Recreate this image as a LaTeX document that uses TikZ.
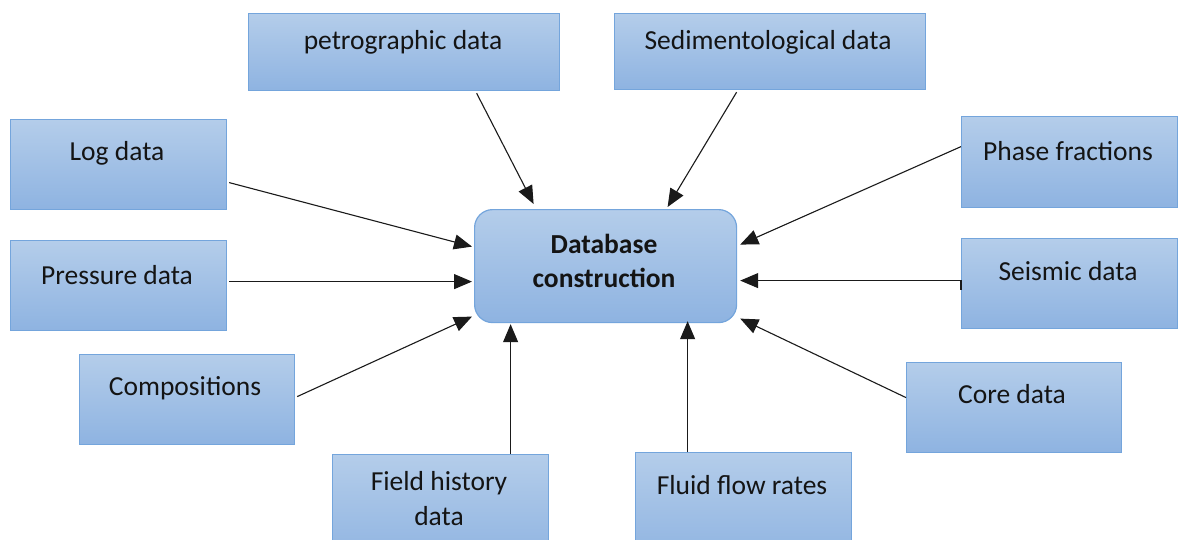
\documentclass[tikz,border=0pt]{standalone}
\usepackage{fontspec}
\setmainfont{Carlito}
\usetikzlibrary{arrows.meta,calc}
\definecolor{boxtop}{HTML}{B4CDEA}
\definecolor{boxbot}{HTML}{8EB3E1}
\definecolor{boxline}{HTML}{74A5DC}
\definecolor{inkline}{HTML}{1A1A1A}
\tikzset{
  srcbox/.style={draw=boxline, line width=1.2pt, top color=boxtop, bottom color=boxbot,
    anchor=north west, inner sep=0pt},
  hubbox/.style={srcbox, rounded corners=18pt},
  lbl/.style={font=\fontsize{27.5}{35}\selectfont, text=black!92, align=center, inner sep=0pt},
  feed/.style={draw=inkline, line width=1.1pt, -{Triangle[length=18pt,width=15pt]}}
}
\begin{document}
\begin{tikzpicture}[x=1pt,y=-1pt]
\clip (0,0) rectangle (1182,540);
\useasboundingbox (0,0) rectangle (1182,540);
\fill[white] (0,0) rectangle (1182,540);

% source boxes
\node[srcbox, minimum width=311pt, minimum height=77pt] (petro) at (248,13) {};
\node[srcbox, minimum width=311pt, minimum height=76pt] (sed) at (614,13) {};
\node[srcbox, minimum width=216pt, minimum height=90pt] (log) at (10,119) {};
\node[srcbox, minimum width=216pt, minimum height=90pt] (press) at (10,240) {};
\node[srcbox, minimum width=215pt, minimum height=90pt] (comp) at (79,354) {};
\node[srcbox, minimum width=216pt, minimum height=110pt] (field) at (332,454) {};
\node[srcbox, minimum width=216pt, minimum height=110pt] (fluid) at (635,452) {};
\node[srcbox, minimum width=215pt, minimum height=90pt] (core) at (906,362) {};
\node[srcbox, minimum width=216pt, minimum height=90pt] (seis) at (961,238) {};
\node[srcbox, minimum width=216pt, minimum height=91pt] (phase) at (961,116) {};

% central box
\node[hubbox, minimum width=262pt, minimum height=113pt] (db) at (474,209) {};

% labels
\node[lbl] (tpetro) at (403,42) {petrographic data};
\node[lbl] (tsed) at (768,42) {Sedimentological data};
\node[lbl] (tlog) at (117,153) {Log data};
\node[lbl] (tpress) at (117,275) {Pressure data};
\node[lbl] (tcomp) at (185,388) {Compositions};
\node[lbl] (tfield) at (439,499) {Field history\\data};
\node[lbl] (tfluid) at (742,485) {Fluid flow rates};
\node[lbl] (tcore) at (1012,394) {Core data};
\node[lbl] (tseis) at (1068,271) {Seismic data};
\node[lbl] (tphase) at (1068,151) {Phase fractions};
\node[lbl, font=\fontsize{27.5}{34}\selectfont\bfseries] (tdb) at (604,261) {Database\\construction};

% connectors into the central box
\draw[feed] ([xshift=72.5pt,yshift=-2pt]petro.south) -- ([xshift=-72pt,yshift=5pt]db.north);
\draw[feed] ([xshift=-33.5pt,yshift=-2pt]sed.south) -- ([xshift=62pt,yshift=2pt]db.north);
\draw[feed] ([xshift=2pt,yshift=-18pt]log.east) -- ([xshift=-2pt,yshift=19.5pt]db.west);
\draw[feed] ([xshift=2pt,yshift=4pt]press.east) -- ([xshift=-2pt,yshift=-15.5pt]db.west);
\draw[feed] ([xshift=2pt,yshift=3pt]comp.east) -- ([xshift=-2pt,yshift=-50.5pt]db.west);
\draw[feed] ([xshift=70pt]field.north) -- ([xshift=-95pt,yshift=-1pt]db.south);
\draw[feed] ([xshift=-56pt]fluid.north) -- ([xshift=82pt,yshift=2pt]db.south);
\draw[feed] ([yshift=10pt]core.west) -- ([xshift=3pt,yshift=-52.5pt]db.east);
\draw[feed] ([yshift=-6pt]seis.west) |- ([xshift=3pt,yshift=-14.5pt]db.east);
\draw[feed] ([yshift=15.5pt]phase.west) -- ([xshift=3pt,yshift=21.5pt]db.east);
\end{tikzpicture}
\end{document}
